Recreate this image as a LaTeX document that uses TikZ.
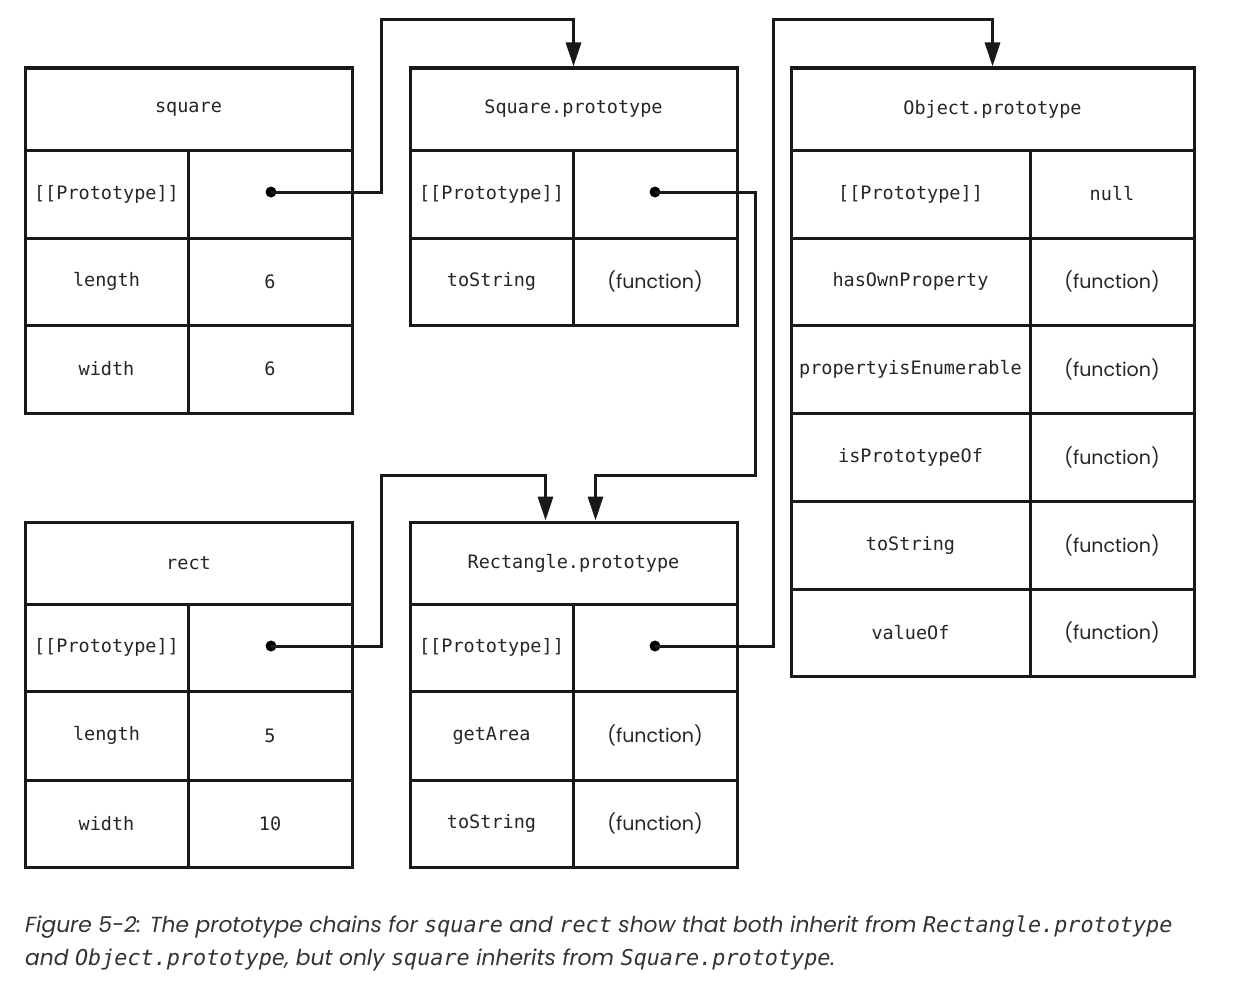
\documentclass[tikz,border=0pt]{standalone}
\usepackage{fontspec}
\setmainfont{Poppins}
\newfontfamily\mono{DejaVu Sans Mono}
\usetikzlibrary{arrows.meta,calc}
\tikzset{
  cellbox/.style={draw=black!90, line width=3pt, inner sep=0pt, font=\mono\fontsize{18.5}{22}\selectfont, text=black!85},
  fn/.style={font=\fontsize{19}{22}\selectfont},
  dotnode/.style={circle, fill=black, inner sep=0pt, minimum size=11pt},
  conn/.style={line width=3pt, draw=black!90, -{Triangle[length=24pt,width=15pt]}},
}
% \cellat{name}{x1}{y1}{x2}{y2}{text}{extra}
\newcommand{\cellat}[7]{%
  \node[cellbox, minimum width={#4-#2}, minimum height={#5-#3}, #7] (#1) at ({(#2+#4)/2},{(#3+#5)/2}) {#6};}
\begin{document}
\begin{tikzpicture}[x=1pt,y=-1pt]
\useasboundingbox[fill=white] (0,0) rectangle (1260,982);
% square
\cellat{sqtitle}{25}{68}{352}{150}{square}{}
\cellat{sqpk}{25}{150}{188}{238}{[[Prototype]]}{}
\cellat{sqpv}{188}{150}{352}{238}{}{}
\cellat{sqlk}{25}{238}{188}{325}{length}{}
\cellat{sqlv}{188}{238}{352}{325}{6}{}
\cellat{sqwk}{25}{325}{188}{413}{width}{}
\cellat{sqwv}{188}{325}{352}{413}{6}{}
% Square.prototype
\cellat{sptitle}{410}{68}{737}{150}{Square.prototype}{}
\cellat{sppk}{410}{150}{573}{238}{[[Prototype]]}{}
\cellat{sppv}{573}{150}{737}{238}{}{}
\cellat{sptk}{410}{238}{573}{325}{toString}{}
\cellat{sptv}{573}{238}{737}{325}{(function)}{fn}
% Object.prototype
\cellat{optitle}{791}{68}{1194}{150}{Object.prototype}{}
\cellat{oppk}{791}{150}{1030}{238}{[[Prototype]]}{}
\cellat{oppv}{1030}{150}{1194}{238}{null}{}
\cellat{ophk}{791}{238}{1030}{325}{hasOwnProperty}{}
\cellat{ophv}{1030}{238}{1194}{325}{(function)}{fn}
\cellat{opek}{791}{325}{1030}{413}{propertyisEnumerable}{}
\cellat{opev}{1030}{325}{1194}{413}{(function)}{fn}
\cellat{opik}{791}{413}{1030}{501}{isPrototypeOf}{}
\cellat{opiv}{1030}{413}{1194}{501}{(function)}{fn}
\cellat{optk}{791}{501}{1030}{589}{toString}{}
\cellat{optv}{1030}{501}{1194}{589}{(function)}{fn}
\cellat{opvk}{791}{589}{1030}{676}{valueOf}{}
\cellat{opvv}{1030}{589}{1194}{676}{(function)}{fn}
% rect
\cellat{rttitle}{25}{522}{352}{604}{rect}{}
\cellat{rtpk}{25}{604}{188}{691}{[[Prototype]]}{}
\cellat{rtpv}{188}{604}{352}{691}{}{}
\cellat{rtlk}{25}{691}{188}{780}{length}{}
\cellat{rtlv}{188}{691}{352}{780}{5}{}
\cellat{rtwk}{25}{780}{188}{867}{width}{}
\cellat{rtwv}{188}{780}{352}{867}{10}{}
% Rectangle.prototype
\cellat{rptitle}{410}{522}{737}{604}{Rectangle.prototype}{}
\cellat{rppk}{410}{604}{573}{691}{[[Prototype]]}{}
\cellat{rppv}{573}{604}{737}{691}{}{}
\cellat{rpgk}{410}{691}{573}{780}{getArea}{}
\cellat{rpgv}{573}{691}{737}{780}{(function)}{fn}
\cellat{rptk}{410}{780}{573}{867}{toString}{}
\cellat{rptv}{573}{780}{737}{867}{(function)}{fn}
% dots
\node[dotnode] (sqdot) at (271,192) {};
\node[dotnode] (spdot) at (655,192) {};
\node[dotnode] (rtdot) at (271,646) {};
\node[dotnode] (rpdot) at (655,646) {};
% connectors
\draw[conn] (sqdot.center) -| (381,20) -| (sptitle.north);
\draw[conn] (spdot.center) -| (755,475) -| ([xshift=22pt]rptitle.north);
\draw[conn] (rtdot.center) -| (381,475) -| ([xshift=-28pt]rptitle.north);
\draw[conn] (rpdot.center) -| (773,20) -| (optitle.north);
% caption
\node[anchor=base west, inner sep=0pt, text=black!80, font=\fontsize{21.8}{33}\selectfont\itshape, align=left] (cap) at (25,965)
{Figure 5-2: The prototype chains for {\mono\itshape square} and {\mono\itshape rect} show that both inherit from {\mono\itshape Rectangle.prototype}\\
and {\mono\itshape Object.prototype}, but only {\mono\itshape square} inherits from {\mono\itshape Square.prototype}.};
\end{tikzpicture}
\end{document}
